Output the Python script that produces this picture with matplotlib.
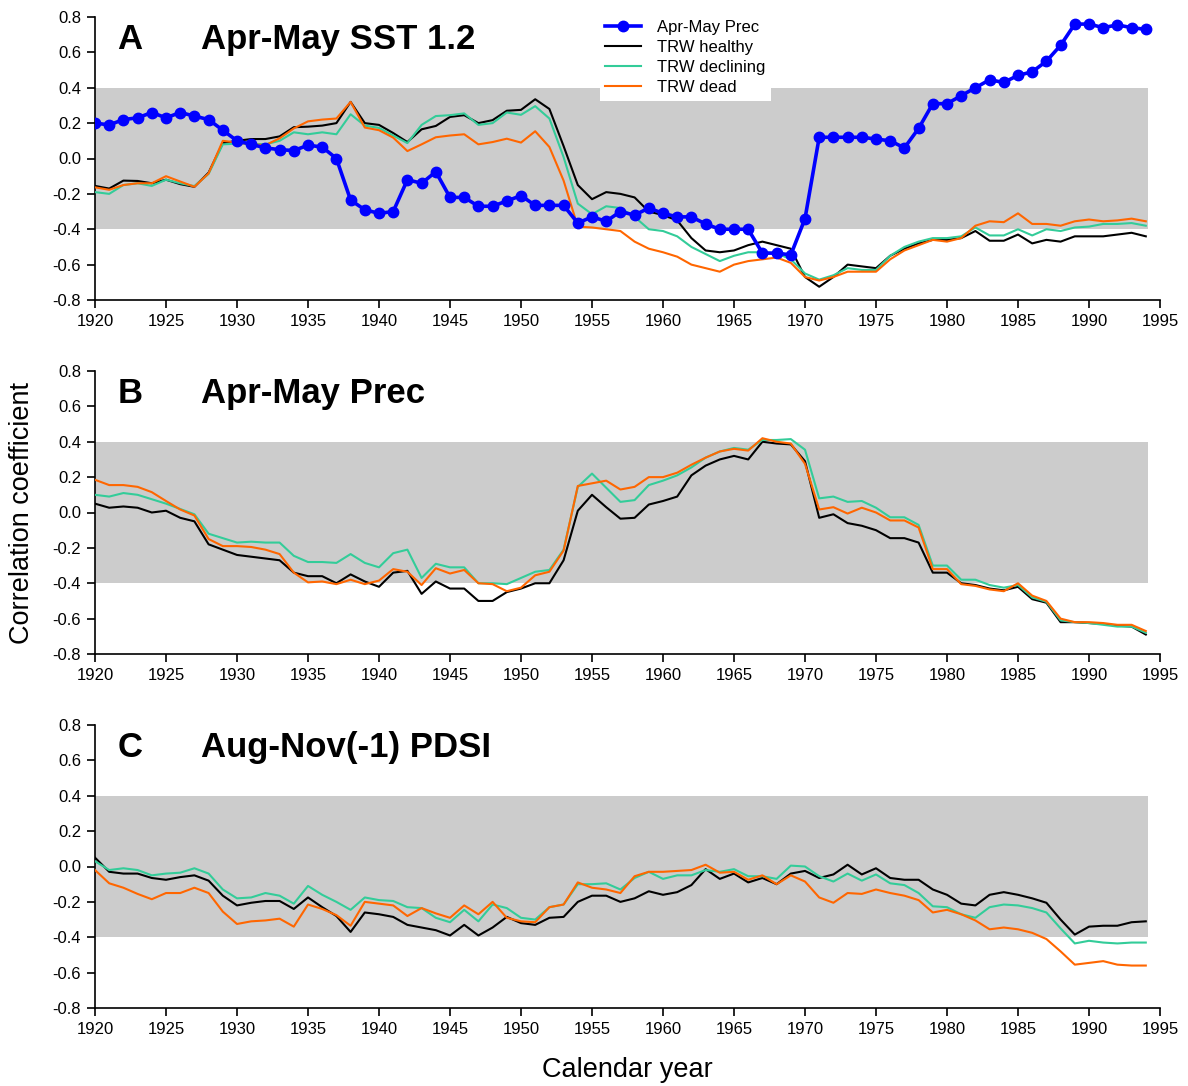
import numpy as np
import matplotlib
matplotlib.use("Agg")
import matplotlib.pyplot as plt

plt.rcParams['font.family'] = ['Liberation Sans', 'DejaVu Sans']
plt.rcParams['axes.unicode_minus'] = False

years = list(range(1920, 1995))

# panel A: Apr-May SST 1.2
a_prec = [0.20, 0.19, 0.22, 0.23, 0.26, 0.23, 0.26, 0.24, 0.22, 0.16,
          0.10, 0.08, 0.06, 0.05, 0.045, 0.075, 0.065, 0.00, -0.235, -0.29,
          -0.31, -0.30, -0.12, -0.14, -0.075, -0.22, -0.22, -0.27, -0.27, -0.24,
          -0.21, -0.265, -0.265, -0.265, -0.365, -0.33, -0.355, -0.30, -0.32, -0.28,
          -0.31, -0.33, -0.33, -0.37, -0.40, -0.40, -0.40, -0.535, -0.535, -0.545,
          -0.34, 0.12, 0.12, 0.12, 0.12, 0.11, 0.10, 0.06, 0.17, 0.31,
          0.31, 0.355, 0.40, 0.445, 0.43, 0.47, 0.49, 0.55, 0.64, 0.76,
          0.76, 0.74, 0.755, 0.74, 0.73]
a_healthy = [-0.155, -0.17, -0.125, -0.127, -0.14, -0.12, -0.145, -0.16, -0.08, 0.087,
             0.10, 0.11, 0.11, 0.125, 0.177, 0.18, 0.186, 0.20, 0.32, 0.20,
             0.19, 0.144, 0.093, 0.165, 0.184, 0.235, 0.245, 0.20, 0.217, 0.27,
             0.275, 0.335, 0.28, 0.07, -0.15, -0.23, -0.19, -0.20, -0.22, -0.30,
             -0.32, -0.35, -0.45, -0.52, -0.53, -0.52, -0.49, -0.47, -0.49, -0.51,
             -0.67, -0.725, -0.67, -0.60, -0.61, -0.62, -0.55, -0.51, -0.48, -0.46,
             -0.46, -0.45, -0.41, -0.465, -0.465, -0.43, -0.48, -0.46, -0.47, -0.44,
             -0.44, -0.44, -0.43, -0.42, -0.44]
a_declining = [-0.19, -0.20, -0.15, -0.14, -0.155, -0.12, -0.14, -0.156, -0.087, 0.08,
               0.084, 0.084, 0.08, 0.10, 0.148, 0.137, 0.148, 0.137, 0.25, 0.186,
               0.173, 0.13, 0.087, 0.19, 0.24, 0.245, 0.255, 0.19, 0.20, 0.26,
               0.247, 0.296, 0.226, 0.008, -0.255, -0.315, -0.27, -0.28, -0.33, -0.40,
               -0.41, -0.44, -0.50, -0.54, -0.58, -0.55, -0.53, -0.53, -0.535, -0.57,
               -0.65, -0.685, -0.66, -0.62, -0.63, -0.63, -0.55, -0.50, -0.47, -0.45,
               -0.45, -0.44, -0.39, -0.435, -0.435, -0.40, -0.435, -0.40, -0.41, -0.39,
               -0.385, -0.37, -0.37, -0.365, -0.38]
a_dead = [-0.163, -0.177, -0.15, -0.14, -0.14, -0.10, -0.13, -0.16, -0.084, 0.10,
          0.09, 0.08, 0.076, 0.114, 0.17, 0.21, 0.22, 0.226, 0.32, 0.175,
          0.16, 0.118, 0.042, 0.08, 0.12, 0.13, 0.137, 0.08, 0.093, 0.112,
          0.09, 0.154, 0.065, -0.125, -0.385, -0.39, -0.40, -0.41, -0.47, -0.51,
          -0.53, -0.555, -0.60, -0.62, -0.64, -0.60, -0.58, -0.57, -0.56, -0.59,
          -0.67, -0.69, -0.67, -0.64, -0.64, -0.64, -0.57, -0.52, -0.49, -0.46,
          -0.47, -0.45, -0.38, -0.355, -0.36, -0.31, -0.37, -0.37, -0.38, -0.355,
          -0.345, -0.355, -0.35, -0.34, -0.355]

# panel B: Apr-May Prec
b_healthy = [0.05, 0.027, 0.034, 0.027, 0.00, 0.01, -0.03, -0.05, -0.18, -0.21,
             -0.24, -0.25, -0.26, -0.27, -0.34, -0.36, -0.36, -0.40, -0.35, -0.39,
             -0.42, -0.34, -0.33, -0.46, -0.39, -0.43, -0.43, -0.50, -0.50, -0.45,
             -0.43, -0.40, -0.40, -0.27, 0.01, 0.10, 0.03, -0.035, -0.03, 0.045,
             0.065, 0.09, 0.21, 0.265, 0.30, 0.32, 0.30, 0.40, 0.39, 0.385,
             0.29, -0.03, -0.01, -0.06, -0.075, -0.10, -0.145, -0.145, -0.17, -0.34,
             -0.34, -0.40, -0.41, -0.43, -0.44, -0.42, -0.49, -0.51, -0.62, -0.62,
             -0.625, -0.63, -0.64, -0.645, -0.69]
b_declining = [0.10, 0.09, 0.11, 0.10, 0.075, 0.05, 0.02, -0.01, -0.12, -0.145,
               -0.17, -0.165, -0.17, -0.17, -0.245, -0.28, -0.28, -0.285, -0.235, -0.285,
               -0.31, -0.23, -0.21, -0.37, -0.29, -0.31, -0.31, -0.40, -0.40, -0.405,
               -0.37, -0.335, -0.325, -0.21, 0.145, 0.22, 0.14, 0.06, 0.07, 0.155,
               0.18, 0.21, 0.255, 0.31, 0.345, 0.365, 0.355, 0.41, 0.41, 0.415,
               0.355, 0.08, 0.09, 0.06, 0.065, 0.027, -0.027, -0.027, -0.07, -0.30,
               -0.30, -0.38, -0.38, -0.41, -0.425, -0.41, -0.48, -0.505, -0.61, -0.62,
               -0.625, -0.635, -0.645, -0.645, -0.68]
b_dead = [0.185, 0.155, 0.155, 0.145, 0.115, 0.065, 0.017, -0.017, -0.15, -0.19,
          -0.19, -0.195, -0.21, -0.235, -0.34, -0.395, -0.39, -0.405, -0.38, -0.405,
          -0.385, -0.32, -0.335, -0.41, -0.315, -0.345, -0.325, -0.40, -0.405, -0.445,
          -0.425, -0.355, -0.335, -0.215, 0.15, 0.165, 0.18, 0.13, 0.145, 0.20,
          0.20, 0.225, 0.27, 0.31, 0.345, 0.36, 0.35, 0.42, 0.40, 0.39,
          0.275, 0.017, 0.03, -0.006, 0.027, 0.00, -0.045, -0.045, -0.085, -0.32,
          -0.32, -0.405, -0.415, -0.435, -0.445, -0.40, -0.47, -0.50, -0.60, -0.62,
          -0.62, -0.625, -0.635, -0.635, -0.67]

# panel C: Aug-Nov(-1) PDSI
c_healthy = [0.05, -0.03, -0.04, -0.04, -0.065, -0.075, -0.06, -0.05, -0.08, -0.165,
             -0.22, -0.205, -0.195, -0.195, -0.24, -0.175, -0.23, -0.28, -0.37, -0.26,
             -0.27, -0.285, -0.33, -0.345, -0.36, -0.39, -0.33, -0.39, -0.345, -0.285,
             -0.32, -0.33, -0.29, -0.285, -0.20, -0.165, -0.165, -0.20, -0.18, -0.14,
             -0.16, -0.145, -0.105, -0.015, -0.07, -0.04, -0.09, -0.065, -0.10, -0.04,
             -0.025, -0.065, -0.045, 0.01, -0.045, -0.01, -0.065, -0.075, -0.075, -0.13,
             -0.16, -0.21, -0.22, -0.16, -0.145, -0.16, -0.18, -0.205, -0.30, -0.385,
             -0.34, -0.335, -0.335, -0.315, -0.31]
c_declining = [0.03, -0.02, -0.01, -0.02, -0.05, -0.04, -0.035, -0.01, -0.04, -0.13,
               -0.18, -0.175, -0.15, -0.165, -0.21, -0.11, -0.16, -0.20, -0.245, -0.175,
               -0.19, -0.195, -0.23, -0.235, -0.29, -0.315, -0.245, -0.31, -0.215, -0.235,
               -0.29, -0.30, -0.23, -0.215, -0.10, -0.10, -0.095, -0.13, -0.065, -0.03,
               -0.07, -0.05, -0.05, -0.02, -0.03, -0.015, -0.055, -0.055, -0.07, 0.005,
               0.00, -0.055, -0.085, -0.04, -0.08, -0.045, -0.095, -0.105, -0.15, -0.225,
               -0.23, -0.27, -0.29, -0.23, -0.215, -0.22, -0.235, -0.26, -0.35, -0.435,
               -0.42, -0.43, -0.435, -0.43, -0.43]
c_dead = [-0.02, -0.095, -0.12, -0.155, -0.185, -0.15, -0.15, -0.12, -0.15, -0.255,
          -0.325, -0.31, -0.305, -0.295, -0.34, -0.215, -0.24, -0.275, -0.335, -0.20,
          -0.21, -0.22, -0.28, -0.235, -0.265, -0.29, -0.22, -0.27, -0.20, -0.29,
          -0.31, -0.315, -0.23, -0.215, -0.09, -0.12, -0.13, -0.15, -0.055, -0.03,
          -0.03, -0.025, -0.02, 0.01, -0.035, -0.03, -0.075, -0.05, -0.10, -0.05,
          -0.085, -0.175, -0.205, -0.15, -0.155, -0.13, -0.15, -0.165, -0.19, -0.26,
          -0.245, -0.27, -0.305, -0.355, -0.345, -0.355, -0.375, -0.41, -0.48, -0.555,
          -0.545, -0.535, -0.555, -0.56, -0.56]

letters = ['A', 'B', 'C']
titles = ['Apr-May SST 1.2', 'Apr-May Prec', 'Aug-Nov(-1) PDSI']
healthy = [a_healthy, b_healthy, c_healthy]
declining = [a_declining, b_declining, c_declining]
dead = [a_dead, b_dead, c_dead]
yticks = [-0.8, -0.6, -0.4, -0.2, 0.0, 0.2, 0.4, 0.6, 0.8]

band_lo, band_hi = -0.4, 0.4
band_end = 1994.15

fig = plt.figure(figsize=(11.88, 10.86), dpi=100)
W, H = 1188.0, 1086.0
tops = [17, 371, 725]
ax_h = 283

for i in range(3):
    ax = fig.add_axes([95 / W, 1 - (tops[i] + ax_h) / H, 1065 / W, ax_h / H])
    ax.fill_between([1920, band_end], band_lo, band_hi, color='#cccccc', lw=0, zorder=0)
    ax.plot(years, healthy[i], color='black', lw=1.5, zorder=2, label='TRW healthy')
    ax.plot(years, declining[i], color='#33cc99', lw=1.5, zorder=3, label='TRW declining')
    ax.plot(years, dead[i], color='#ff6600', lw=1.5, zorder=4, label='TRW dead')
    if i == 0:
        ax.plot(years, a_prec, color='#0000ff', lw=2.6, marker='o', ms=7.5,
                zorder=5, label='Apr-May Prec')
        h, l = ax.get_legend_handles_labels()
        order = [3, 0, 1, 2]
        leg = ax.legend([h[k] for k in order], [l[k] for k in order],
                        loc='upper left', bbox_to_anchor=(0.466, 1.04),
                        fontsize=12, frameon=True, fancybox=False,
                        facecolor='white', edgecolor='none', framealpha=1,
                        handlelength=2.15, handletextpad=0.95, labelspacing=0.3,
                        borderpad=0.35)
        leg.set_zorder(10)

    ax.set_xlim(1920, 1995)
    ax.set_ylim(-0.8, 0.8)
    ax.set_xticks(range(1920, 1996, 5))
    ax.set_yticks(yticks)
    ax.set_yticklabels(['%.1f' % v for v in yticks])
    ax.tick_params(direction='out', length=6, width=1.2, labelsize=12, pad=4)
    for s in ['top', 'right']:
        ax.spines[s].set_visible(False)
    for s in ['left', 'bottom']:
        ax.spines[s].set_linewidth(1.2)

    ax.text(0.021, 0.888, letters[i], transform=ax.transAxes, fontsize=25,
            fontweight='bold', va='baseline', ha='left')
    ax.text(0.0995, 0.888, titles[i], transform=ax.transAxes, fontsize=25,
            fontweight='bold', va='baseline', ha='left')

fig.text(22 / W, 1 - 513 / H, 'Correlation coefficient', rotation=90,
         fontsize=19.5, ha='center', va='center')
fig.text(627 / W, 1 - 1077 / H, 'Calendar year', fontsize=19.5,
         ha='center', va='baseline')

fig.savefig('out.png', dpi=100)
